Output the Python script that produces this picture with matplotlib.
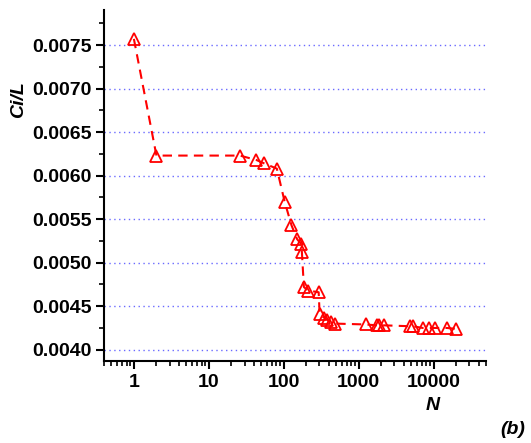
import matplotlib.pyplot as plt
from matplotlib.ticker import LogLocator, MultipleLocator, FixedFormatter, FixedLocator

plt.rcParams['font.family'] = ['Liberation Sans', 'DejaVu Sans']

# values
N = [1, 2, 26, 43, 55, 81, 103, 127, 151, 169, 175, 186, 211, 293, 302,
     344, 383, 432, 489, 1260, 1760, 1900, 2200, 4790, 5300, 7200, 8840,
     10500, 15000, 20000]
CiL = [0.00757, 0.00623, 0.00623, 0.00618, 0.00614, 0.00608, 0.00570,
       0.00543, 0.00527, 0.00522, 0.00512, 0.00472, 0.00468, 0.00466,
       0.00441, 0.00437, 0.00434, 0.00432, 0.00430, 0.00429, 0.00428,
       0.00428, 0.00428, 0.00427, 0.00427, 0.00425, 0.00425, 0.00425,
       0.00425, 0.00424]
x_ticks = [1, 10, 100, 1000, 10000]
x_labels = ['1', '10', '100', '1000', '10000']
y_ticks = [0.0040, 0.0045, 0.0050, 0.0055, 0.0060, 0.0065, 0.0070, 0.0075]
y_labels = ['0.0040', '0.0045', '0.0050', '0.0055', '0.0060', '0.0065',
            '0.0070', '0.0075']

fig = plt.figure(figsize=(5.31, 4.43), dpi=100)
ax = fig.add_axes([0.196, 0.185, 0.719, 0.792])

for yv in y_ticks:
    ax.axhline(yv, color='#6a6aff', lw=1.0, ls=(0, (1, 2.5)), zorder=1)

ax.plot(N, CiL, color='red', lw=1.5, dashes=(4.5, 3), marker='^',
        markersize=8, markerfacecolor='none', markeredgecolor='red',
        markeredgewidth=1.3, zorder=3)

ax.set_xscale('log')
ax.set_xlim(0.4, 50000)
ax.set_ylim(0.00387, 0.0079)

ax.xaxis.set_major_locator(FixedLocator(x_ticks))
ax.xaxis.set_major_formatter(FixedFormatter(x_labels))
ax.xaxis.set_minor_locator(LogLocator(base=10, subs=range(2, 10), numticks=20))
ax.yaxis.set_major_locator(FixedLocator(y_ticks))
ax.yaxis.set_major_formatter(FixedFormatter(y_labels))
ax.yaxis.set_minor_locator(MultipleLocator(0.00025))

for side in ['top', 'right']:
    ax.spines[side].set_visible(False)
for side in ['left', 'bottom']:
    ax.spines[side].set_linewidth(1.5)

ax.tick_params(which='major', direction='out', length=6, width=1.5,
               labelsize=14, pad=3)
ax.tick_params(which='minor', direction='out', length=3.5, width=1.2)
for lab in ax.get_xticklabels() + ax.get_yticklabels():
    lab.set_fontweight('bold')

fig.text(0.035, 1 - 100 / 443, 'Ci/L', rotation=90, fontsize=14,
         fontweight='bold', fontstyle='italic', ha='center', va='center')
fig.text(433 / 531, 1 - 406 / 443, 'N', fontsize=14, fontweight='bold',
         fontstyle='italic', ha='center', va='center')
fig.text(513 / 531, 1 - 429 / 443, '(b)', fontsize=14, fontweight='bold',
         fontstyle='italic', ha='center', va='center')

fig.savefig('out.png', dpi=100)
